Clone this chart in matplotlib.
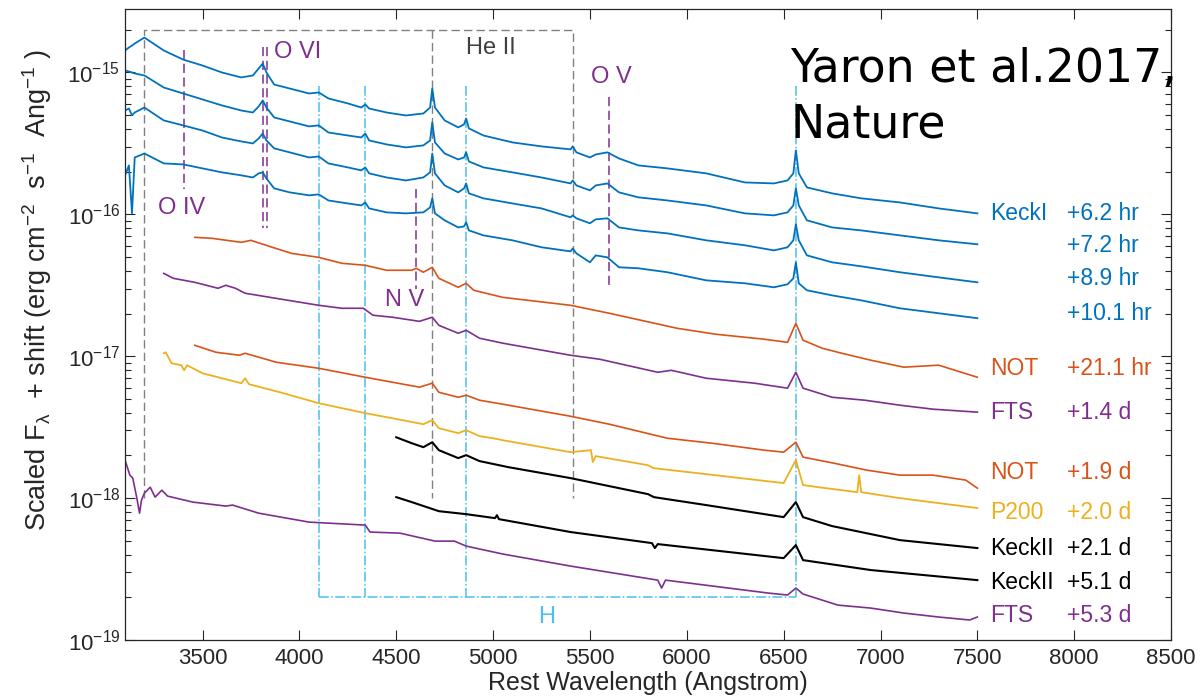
"""
Early spectra of SN 2013fs (Yaron et al. 2017) - log flux vs rest wavelength
"""
import matplotlib; matplotlib.use('Agg')
import matplotlib.pyplot as plt
from matplotlib.ticker import NullLocator, LogLocator
import numpy as np

plt.rcParams.update({
    'font.family': ['Liberation Sans', 'DejaVu Sans'],
    'mathtext.default': 'regular',
    'axes.unicode_minus': False,
})

# ---- data: rest wavelength (Angstrom) and log10 scaled flux ----
wl_keck1 = [3100, 3120, 3136, 3150, 3200, 3300, 3400, 3500, 3600, 3700,
            3760, 3790, 3811, 3830, 3870, 3950, 4050, 4100, 4150, 4250,
            4320, 4340, 4360, 4450, 4550, 4640, 4675, 4686, 4700, 4750,
            4820, 4850, 4861, 4875, 4950, 5100, 5250, 5400, 5411, 5430,
            5500, 5530, 5590, 5650, 5750, 5900, 6100, 6300, 6450, 6520,
            6550, 6563, 6578, 6620, 6750, 6900, 7100, 7300, 7500]
logf_keck1_6p2hr = [-14.845, -14.824, -14.810, -14.796, -14.754, -14.845, -14.909, -14.951, -15.000, -15.035,
                    -15.021, -14.972, -14.937, -15.000, -15.085, -15.113, -15.148, -15.141, -15.183, -15.218,
                    -15.247, -15.225, -15.254, -15.282, -15.303, -15.289, -15.247, -15.113, -15.247, -15.338,
                    -15.387, -15.366, -15.324, -15.394, -15.444, -15.493, -15.521, -15.542, -15.521, -15.563,
                    -15.599, -15.578, -15.563, -15.606, -15.655, -15.676, -15.711, -15.775, -15.782, -15.761,
                    -15.711, -15.549, -15.711, -15.810, -15.852, -15.887, -15.916, -15.958, -15.993]
logf_keck1_7p2hr = [-14.986, -14.993, -15.000, -15.007, -15.021, -15.106, -15.148, -15.190, -15.232, -15.268,
                    -15.282, -15.239, -15.197, -15.247, -15.317, -15.345, -15.380, -15.373, -15.423, -15.444,
                    -15.458, -15.430, -15.479, -15.507, -15.528, -15.514, -15.479, -15.352, -15.493, -15.571,
                    -15.613, -15.599, -15.563, -15.627, -15.669, -15.704, -15.740, -15.782, -15.761, -15.796,
                    -15.831, -15.796, -15.782, -15.845, -15.880, -15.902, -15.937, -15.993, -16.007, -15.986,
                    -15.937, -15.817, -15.937, -16.042, -16.092, -16.113, -16.148, -16.183, -16.211]
logf_keck1_8p9hr = [-15.268, -15.254, -15.303, -15.282, -15.247, -15.338, -15.373, -15.409, -15.458, -15.486,
                    -15.500, -15.465, -15.430, -15.479, -15.535, -15.563, -15.599, -15.592, -15.641, -15.669,
                    -15.690, -15.669, -15.711, -15.740, -15.761, -15.740, -15.704, -15.571, -15.711, -15.796,
                    -15.845, -15.817, -15.782, -15.852, -15.887, -15.923, -15.958, -16.021, -16.007, -16.028,
                    -16.063, -16.035, -16.028, -16.092, -16.113, -16.134, -16.183, -16.218, -16.254, -16.232,
                    -16.183, -16.070, -16.183, -16.289, -16.338, -16.366, -16.408, -16.444, -16.479]
logf_keck1_10p1hr = [-15.725, -15.655, -15.993, -15.599, -15.571, -15.641, -15.648, -15.676, -15.704, -15.725,
                     -15.740, -15.711, -15.704, -15.747, -15.817, -15.845, -15.866, -15.859, -15.902, -15.923,
                     -15.937, -15.916, -15.958, -15.986, -15.993, -15.986, -15.951, -15.887, -15.993, -16.042,
                     -16.092, -16.085, -16.056, -16.113, -16.148, -16.183, -16.232, -16.261, -16.240, -16.275,
                     -16.338, -16.289, -16.303, -16.373, -16.380, -16.408, -16.465, -16.486, -16.514, -16.493,
                     -16.451, -16.338, -16.486, -16.535, -16.571, -16.606, -16.662, -16.697, -16.732]

wl_not_21hr = [3460, 3550, 3700, 3750, 3860, 3960, 4100, 4220, 4340, 4450, 4580, 4603, 4640, 4686, 4720,
               4820, 4861, 4900, 5050, 5400, 5600, 5950, 6150, 6400, 6520, 6563, 6600, 6700, 6800, 6950,
               7120, 7300, 7500]
logf_not_21hr = [-16.162, -16.169, -16.197, -16.183, -16.232, -16.275, -16.303, -16.345, -16.359, -16.394,
                 -16.394, -16.380, -16.408, -16.373, -16.451, -16.514, -16.486, -16.535, -16.585, -16.641,
                 -16.697, -16.803, -16.845, -16.880, -16.902, -16.768, -16.887, -16.944, -16.979, -17.028,
                 -17.077, -17.063, -17.148]

wl_fts_1p4d = [3300, 3320, 3350, 3460, 3580, 3620, 3670, 3720, 3880, 4100, 4220, 4330, 4380, 4480, 4620,
               4686, 4720, 4820, 4861, 4930, 5050, 5400, 5550, 5850, 5920, 6100, 6350, 6520, 6563, 6600,
               6750, 6920, 7100, 7270, 7500]
logf_fts_1p4d = [-16.416, -16.430, -16.451, -16.479, -16.521, -16.500, -16.521, -16.556, -16.592, -16.641,
                 -16.662, -16.662, -16.711, -16.725, -16.754, -16.725, -16.782, -16.838, -16.817, -16.873,
                 -16.908, -16.993, -17.021, -17.113, -17.099, -17.155, -17.190, -17.225, -17.113, -17.225,
                 -17.289, -17.310, -17.345, -17.373, -17.394]

wl_not_1p9d = [3460, 3570, 3690, 3720, 3880, 4100, 4340, 4620, 4686, 4720, 4820, 4861, 4930, 5050,
               5400, 5600, 5900, 6130, 6400, 6500, 6563, 6600, 6760, 6930, 7100, 7270, 7440, 7500]
logf_not_1p9d = [-16.923, -16.972, -16.993, -16.979, -17.042, -17.085, -17.148, -17.218, -17.190, -17.254,
                 -17.289, -17.275, -17.310, -17.338, -17.423, -17.479, -17.578, -17.613, -17.662, -17.676,
                 -17.606, -17.711, -17.754, -17.803, -17.838, -17.838, -17.873, -17.930]

wl_p200_2p0d = [3300, 3310, 3340, 3390, 3405, 3420, 3500, 3700, 3720, 3740, 3900, 4100, 4340, 4480,
                4640, 4686, 4720, 4820, 4861, 4930, 5000, 5050, 5400, 5505, 5515, 5530, 5800, 5830,
                6100, 6500, 6563, 6600, 6680, 6880, 6890, 6900, 7100, 7500]
logf_p200_2p0d = [-16.979, -16.972, -17.049, -17.063, -17.099, -17.063, -17.120, -17.190, -17.155, -17.197,
                  -17.254, -17.331, -17.401, -17.437, -17.479, -17.451, -17.507, -17.542, -17.521, -17.563,
                  -17.578, -17.592, -17.676, -17.662, -17.746, -17.704, -17.768, -17.789, -17.831, -17.894,
                  -17.732, -17.908, -17.923, -17.958, -17.838, -17.958, -18.000, -18.070]

wl_keck2_2p1d = [4500, 4580, 4640, 4686, 4720, 4820, 4861, 4930, 5080, 5400, 5800, 5830, 6100, 6500,
                 6563, 6600, 6750, 7100, 7500]
logf_keck2_2p1d = [-17.571, -17.613, -17.641, -17.606, -17.662, -17.718, -17.697, -17.739, -17.782, -17.859,
                   -17.972, -17.993, -18.049, -18.134, -18.028, -18.134, -18.197, -18.296, -18.352]

wl_keck2_5p1d = [4500, 4580, 4720, 4861, 5010, 5020, 5030, 5400, 5820, 5835, 5850, 6500, 6563, 6600,
                 6950, 7500]
logf_keck2_5p1d = [-17.993, -18.028, -18.092, -18.113, -18.141, -18.120, -18.148, -18.239, -18.317, -18.352,
                   -18.324, -18.423, -18.331, -18.437, -18.507, -18.578]

wl_fts_5p3d = [3100, 3125, 3140, 3160, 3175, 3185, 3200, 3230, 3255, 3290, 3320, 3450, 3620, 3655, 3790,
               4050, 4340, 4365, 4520, 4700, 4800, 4861, 5050, 5400, 5850, 5870, 5890, 6420, 6520, 6563,
               6600, 6780, 6950, 7120, 7300, 7460, 7500]
logf_fts_5p3d = [-17.732, -17.838, -17.859, -17.993, -18.106, -18.014, -17.965, -17.923, -17.993, -17.944,
                 -17.986, -18.028, -18.056, -18.049, -18.106, -18.169, -18.190, -18.239, -18.247, -18.303,
                 -18.303, -18.338, -18.394, -18.479, -18.578, -18.634, -18.578, -18.669, -18.683, -18.634,
                 -18.676, -18.754, -18.775, -18.810, -18.838, -18.859, -18.838]

# spectral line markers (Angstrom)
oiv_wl = 3405
ovi_wl = [3811, 3834]
nv_wl = 4604
ov_wl = 5598
he2_wl = [4686, 5411]
balmer_wl = [4102, 4340, 4861, 6563]

# label texts
inst_names = ['KeckI', '', '', '', 'NOT', 'FTS', 'NOT', 'P200', 'KeckII', 'KeckII', 'FTS']
epochs = ['+6.2 hr', '+7.2 hr', '+8.9 hr', '+10.1 hr', '+21.1 hr', '+1.4 d',
          '+1.9 d', '+2.0 d', '+2.1 d', '+5.1 d', '+5.3 d']

# ---- style ----
BLUE, ORANGE, YELLOW, PURPLE = '#0072BD', '#D95319', '#EDB120', '#7E2F8E'
LBLUE, GRAY, DARK = '#4DBEEE', '#808080', '#262626'

spectra = [
    (wl_keck1, logf_keck1_6p2hr, BLUE, 1.3),
    (wl_keck1, logf_keck1_7p2hr, BLUE, 1.3),
    (wl_keck1, logf_keck1_8p9hr, BLUE, 1.3),
    (wl_keck1, logf_keck1_10p1hr, BLUE, 1.3),
    (wl_not_21hr, logf_not_21hr, ORANGE, 1.2),
    (wl_fts_1p4d, logf_fts_1p4d, PURPLE, 1.2),
    (wl_not_1p9d, logf_not_1p9d, ORANGE, 1.2),
    (wl_p200_2p0d, logf_p200_2p0d, YELLOW, 1.3),
    (wl_keck2_2p1d, logf_keck2_2p1d, 'black', 1.5),
    (wl_keck2_5p1d, logf_keck2_5p1d, 'black', 1.5),
    (wl_fts_5p3d, logf_fts_5p3d, PURPLE, 1.2),
]
label_colors = [BLUE, BLUE, BLUE, BLUE, ORANGE, PURPLE, ORANGE, YELLOW, 'black', 'black', PURPLE]
label_logy = [-15.993, -16.218, -16.451, -16.697, -17.085, -17.394,
              -17.817, -18.099, -18.352, -18.592, -18.824]

fig = plt.figure(figsize=(12.01, 7.0), dpi=100)
fig.patch.set_facecolor('white')
ax = fig.add_axes([0.1041, 0.0857, 0.8710, 0.9014])
ax.set_yscale('log')
ax.set_xlim(3100, 8500)
ax.set_ylim(1e-19, 2.8e-15)

# guide lines
dash = (0, (6, 3))
ax.plot([3200, 3200, he2_wl[1], he2_wl[1]], [1e-18, 2e-15, 2e-15, 1e-18],
        color=GRAY, lw=1.0, ls=dash, zorder=1)
ax.plot([he2_wl[0], he2_wl[0]], [2e-15, 1e-18], color=GRAY, lw=1.0, ls=dash, zorder=1)
for w in balmer_wl:
    ax.plot([w, w], [8e-16, 2e-19], color=LBLUE, lw=1.1, ls='-.', zorder=1)
ax.plot([balmer_wl[0], balmer_wl[-1]], [2e-19, 2e-19], color=LBLUE, lw=1.1, ls='-.', zorder=1)
ax.plot([oiv_wl, oiv_wl], [1.43e-15, 1.52e-16], color=PURPLE, lw=1.1, ls=dash, zorder=1)
for w in ovi_wl:
    ax.plot([w, w], [1.5e-15, 8e-17], color=PURPLE, lw=1.1, ls=dash, zorder=1)
ax.plot([nv_wl, nv_wl], [1.52e-16, 3e-17], color=PURPLE, lw=1.1, ls=dash, zorder=1)
ax.plot([ov_wl, ov_wl], [6.67e-16, 3e-17], color=PURPLE, lw=1.1, ls=dash, zorder=1)

for wl, logf, c, lw in spectra:
    ax.plot(wl, 10 ** np.array(logf), color=c, lw=lw, zorder=2)

# line labels
fs_lab = 17
ax.text(3390, 10 ** -15.958, 'O IV', color=PURPLE, fontsize=fs_lab, ha='center', va='center')
ax.text(3993, 10 ** -14.859, 'O VI', color=PURPLE, fontsize=fs_lab, ha='center', va='center')
ax.text(4544, 10 ** -16.606, 'N V', color=PURPLE, fontsize=fs_lab, ha='center', va='center')
ax.text(5610, 10 ** -15.035, 'O V', color=PURPLE, fontsize=fs_lab, ha='center', va='center')
ax.text(4989, 10 ** -14.831, 'He II', color='#404040', fontsize=fs_lab, ha='center', va='center')
ax.text(5274, 10 ** -18.838, 'H', color=LBLUE, fontsize=fs_lab, ha='center', va='center')

for name, ep, c, ly in zip(inst_names, epochs, label_colors, label_logy):
    if name:
        ax.text(7567, 10 ** ly, name, color=c, fontsize=16.5, ha='left', va='center')
    ax.text(7965, 10 ** ly, ep, color=c, fontsize=16.5, ha='left', va='center')

# axes cosmetics
ax.set_xticks(range(3500, 8501, 500))
ax.set_yticks([1e-19, 1e-18, 1e-17, 1e-16, 1e-15])
ax.yaxis.set_minor_locator(LogLocator(base=10, subs=np.arange(2, 10), numticks=20))
ax.xaxis.set_minor_locator(NullLocator())
ax.tick_params(which='both', direction='in', top=True, right=True,
               colors=DARK, labelsize=16, width=0.8)
ax.tick_params(which='major', length=7)
ax.tick_params(which='minor', length=4)
ax.tick_params(axis='x', pad=6)
for s in ax.spines.values():
    s.set_color(DARK)
    s.set_linewidth(0.9)

ax.set_xlabel('Rest Wavelength (Angstrom)', fontsize=18, color=DARK, labelpad=1)
ax.set_ylabel(r'Scaled F$_{\lambda}$  + shift (erg cm$^{-2}$  s$^{-1}$  Ang$^{-1}$ )',
              fontsize=19.5, color=DARK)
ax.yaxis.set_label_coords(-0.068, 0.555)

fig.text(0.658, 1 - 82 / 700, 'Yaron et al.2017,', fontsize=33,
         family='DejaVu Sans', va='baseline', ha='left')
fig.text(0.658, 1 - 137 / 700, 'Nature', fontsize=33,
         family='DejaVu Sans', va='baseline', ha='left')

fig.savefig('out.png', dpi=100)
plt.close()
